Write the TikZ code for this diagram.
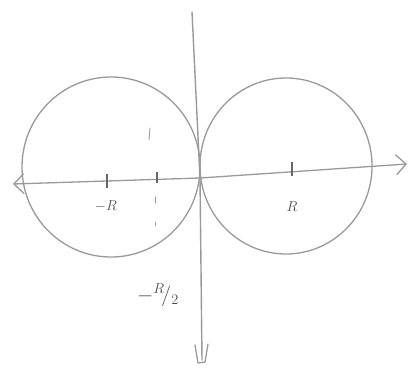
\documentclass[tikz,border=0pt]{standalone}
\usetikzlibrary{arrows.meta}
\begin{document}
\begin{tikzpicture}[x=1pt,y=-1pt,
  pencil/.style={draw=black!40, line width=1.3pt, line cap=round, line join=round},
  lbl/.style={text=black!70, font=\Large},
  tickmark/.style={draw=black!60, line width=1.4pt}]
\useasboundingbox (0,0) rectangle (417,391);
% axes
\coordinate (xl) at (13,184);
\coordinate (xr) at (407,164);
\coordinate (o) at (200,178);
\coordinate (yt) at (192,12);
\coordinate (yb) at (202,360);
\draw[pencil, {Straight Barb[length=10pt,width=20pt]}-{Straight Barb[length=10pt,width=20pt]}] (xl) -- (o) -- (xr);
\draw[pencil, line width=1.4pt] (yt) -- (o) -- (yb);
\draw[pencil] (195,345) -- (198,363) -- (205,362) -- (208,344);
% circles
\draw[pencil] (111,167) ellipse [x radius=89, y radius=90];
\draw[pencil] (286,166) ellipse [x radius=86, y radius=88];
% ticks
\draw[tickmark] (107,174) -- (107,188);
\draw[tickmark] (157,172) -- (157,183);
\draw[tickmark] (292,162) -- (292,176);
% dashed guide at -R/2
\draw[pencil, line width=0.9pt] (150,128) -- (149,140);
\draw[pencil, line width=0.9pt] (155,197) -- (155,203);
\draw[pencil, line width=0.9pt] (155,222) -- (155,226);
% labels
\node[lbl] (lmR) at (106,206) {$-R$};
\node[lbl] (lR) at (292,207) {$R$};
\node[lbl, font=\huge] (lhalf) at (158,295) {$-{}^{R}\!/_{2}$};
\end{tikzpicture}
\end{document}
